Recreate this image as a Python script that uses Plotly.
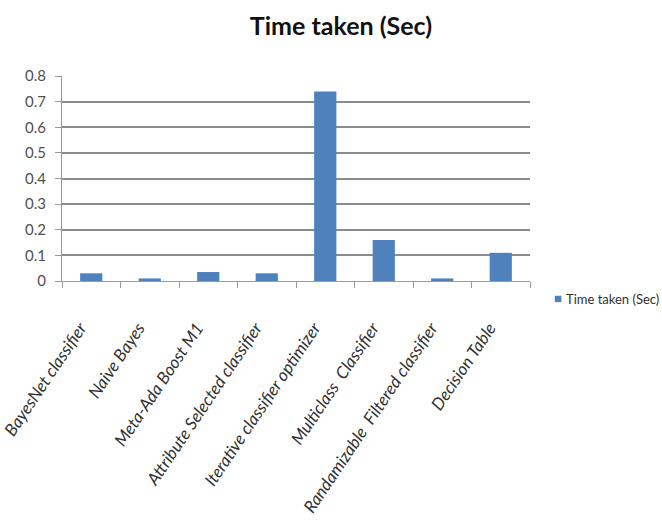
import plotly.graph_objects as go

# Classifier run times (seconds)
classifiers = [
    "BayesNet classifier",
    "Naive Bayes",
    "Meta-Ada Boost M1",
    "Attribute Selected classifier",
    "Iterative classifier optimizer",
    "Multiclass\u00a0 Classifier",
    "Randamizable\u00a0 Filtered classifier",
    "Decision Table",
]
time_taken = [0.03, 0.01, 0.035, 0.03, 0.74, 0.16, 0.01, 0.11]
y_ticks = [0, 0.1, 0.2, 0.3, 0.4, 0.5, 0.6, 0.7, 0.8]
y_tick_text = ["0", "0.1", "0.2", "0.3", "0.4", "0.5", "0.6", "0.7", "0.8"]

series_name = "Time taken (Sec)"
bar_color = "#4F81BD"
face = "Lato, Open Sans, sans-serif"

# rotated category labels sit a little further along their own direction
label_pad = "\u00a0" * 5

fig = go.Figure(
    go.Bar(
        x=classifiers,
        y=time_taken,
        name=series_name,
        marker=dict(color=bar_color, line=dict(width=0)),
        showlegend=False,
    )
)

# Legend entry drawn as a small square plus label, placed right of the plot
fig.add_shape(
    type="rect", xref="paper", yref="paper",
    x0=1.053, x1=1.067, y0=-0.072, y1=-0.103,
    fillcolor=bar_color, line=dict(width=0),
)
fig.add_annotation(
    text=series_name, xref="paper", yref="paper",
    x=1.072, y=-0.088, xanchor="left", yanchor="middle",
    showarrow=False, font=dict(family=face, size=13, color="#303030"),
)

fig.update_layout(
    width=662,
    height=522,
    margin=dict(l=62, r=132, t=76, b=241, autoexpand=False),
    paper_bgcolor="white",
    plot_bgcolor="white",
    bargap=0.62,
    showlegend=False,
    font=dict(family=face, color="#404040", size=12),
    title=dict(
        text="<b>Time taken (Sec)</b>",
        x=0.515,
        xanchor="center",
        y=0.95,
        yanchor="middle",
        font=dict(family=face, size=25, color="#111111"),
    ),
)

fig.update_xaxes(
    automargin=False,
    tickmode="array",
    tickvals=classifiers,
    ticktext=[name + label_pad for name in classifiers],
    tickangle=-56,
    showgrid=False,
    showline=True,
    linecolor="#9a9a9a",
    linewidth=1,
    ticks="outside",
    tickson="boundaries",
    ticklen=6,
    tickcolor="#9a9a9a",
    ticklabelstandoff=13,
    tickfont=dict(family=face, size=17, color="#303030", style="italic"),
)

fig.update_yaxes(
    automargin=False,
    range=[0, 0.8],
    tickvals=y_ticks,
    ticktext=y_tick_text,
    showgrid=True,
    gridcolor="#8c8c8c",
    gridwidth=2,
    showline=True,
    linecolor="#9a9a9a",
    linewidth=1,
    ticks="outside",
    ticklen=6,
    tickcolor="#9a9a9a",
    ticklabelstandoff=6,
    zeroline=False,
    tickfont=dict(family=face, size=15, color="#505050"),
)

fig.write_html("out.html")
